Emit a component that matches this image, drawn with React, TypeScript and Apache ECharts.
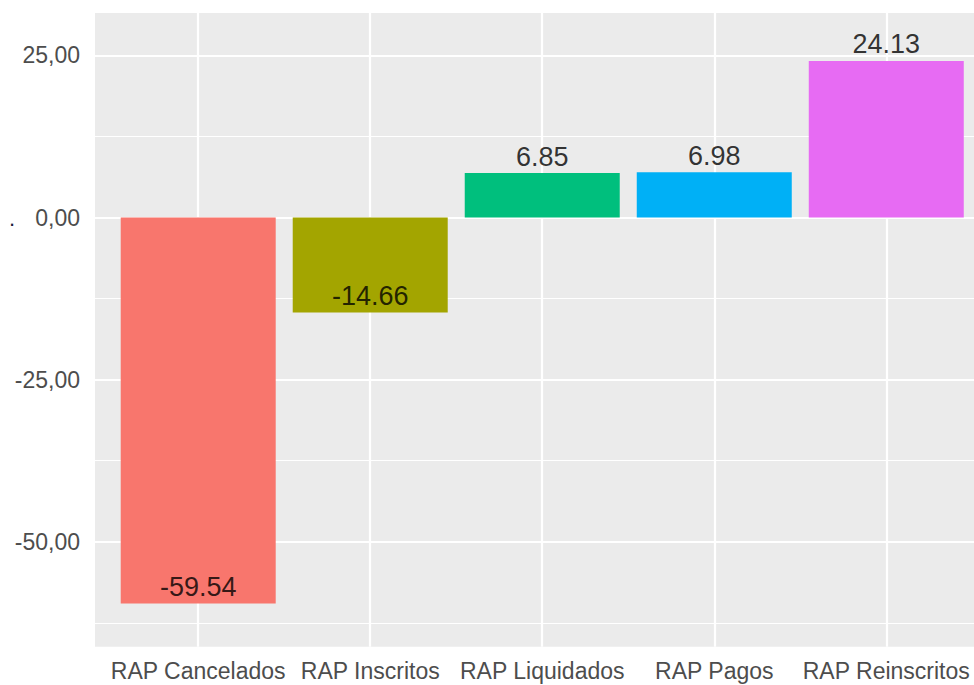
import React, { useEffect, useRef } from "react";
import * as echarts from "echarts";

const categories = ["RAP Cancelados", "RAP Inscritos", "RAP Liquidados", "RAP Pagos", "RAP Reinscritos"];
const values = [-59.54, -14.66, 6.85, 6.98, 24.13];
const barColors = ["#F8766D", "#A3A500", "#00BF7D", "#00B0F6", "#E76BF3"];
const yTickValues = [-50, -25, 0, 25];
const yMinorValues = [-62.5, -37.5, -12.5, 12.5];

const FONT = "'Liberation Sans', Arial, sans-serif";

export default function App() {
  const ref = useRef<HTMLDivElement>(null);
  useEffect(() => {
    if (!ref.current) return;
    const chart = echarts.init(ref.current, undefined, { renderer: "svg" });
    const idx = categories.map((_, i) => i);
    const gridLines: any[] = [];
    yTickValues.forEach((v) => gridLines.push({ yAxis: v, lineStyle: { width: 2.2 } }));
    yMinorValues.forEach((v) => gridLines.push({ yAxis: v, lineStyle: { width: 1.2 } }));
    idx.forEach((i) => gridLines.push({ xAxis: i, lineStyle: { width: 2.2 } }));

    chart.setOption({
      animation: false,
      grid: {
        left: 95,
        top: 13,
        right: 0,
        bottom: 38.3,
        show: true,
        backgroundColor: "#EBEBEB",
        borderWidth: 0,
      },
      graphic: [
        {
          type: "text",
          left: 9,
          top: 207,
          style: { text: ".", fontSize: 22, fill: "#1a1a3a", fontFamily: FONT },
        },
      ],
      xAxis: {
        type: "value",
        min: -0.6,
        max: 4.51,
        axisLine: { show: false },
        splitLine: { show: false },
        axisTick: {
          show: true,
          length: 7,
          customValues: idx,
          lineStyle: { color: "#333333", width: 2 },
        },
        axisLabel: {
          customValues: idx,
          formatter: (v: number) => categories[Math.round(v)] ?? "",
          color: "#4D4D4D",
          fontSize: 23,
          fontFamily: FONT,
          margin: 13,
        },
      },
      yAxis: {
        type: "value",
        min: -66.19,
        max: 31.54,
        axisLine: { show: false },
        splitLine: { show: false },
        axisTick: {
          show: true,
          length: 7,
          customValues: yTickValues,
          lineStyle: { color: "#333333", width: 2 },
        },
        axisLabel: {
          customValues: yTickValues,
          formatter: (v: number) => v.toFixed(2).replace(".", ","),
          color: "#4D4D4D",
          fontSize: 23,
          fontFamily: FONT,
          margin: 15,
        },
      },
      series: [
        {
          type: "line",
          data: [],
          silent: true,
          markLine: {
            silent: true,
            z: 1,
            symbol: ["none", "none"],
            label: { show: false },
            lineStyle: { color: "#FFFFFF", type: "solid" },
            emphasis: { disabled: true },
            data: gridLines,
          },
        },
        {
          type: "bar",
          z: 2,
          barWidth: 155,
          data: values.map((v, i) => ({ value: [i, v], itemStyle: { color: barColors[i] } })),
        },
        {
          type: "scatter",
          z: 3,
          symbolSize: 0.1,
          itemStyle: { color: "transparent" },
          data: values.map((v, i) => [i, v]),
          label: {
            show: true,
            position: "top",
            distance: 3,
            formatter: (p: any) => p.value[1].toFixed(2),
            color: "#000000",
            fontSize: 27,
            fontFamily: FONT,
          },
        },
      ],
    });
    return () => chart.dispose();
  }, []);
  return (
    <div
      ref={ref}
      style={{ position: "absolute", left: 0, top: 0, width: 974, height: 685 }}
    />
  );
}
